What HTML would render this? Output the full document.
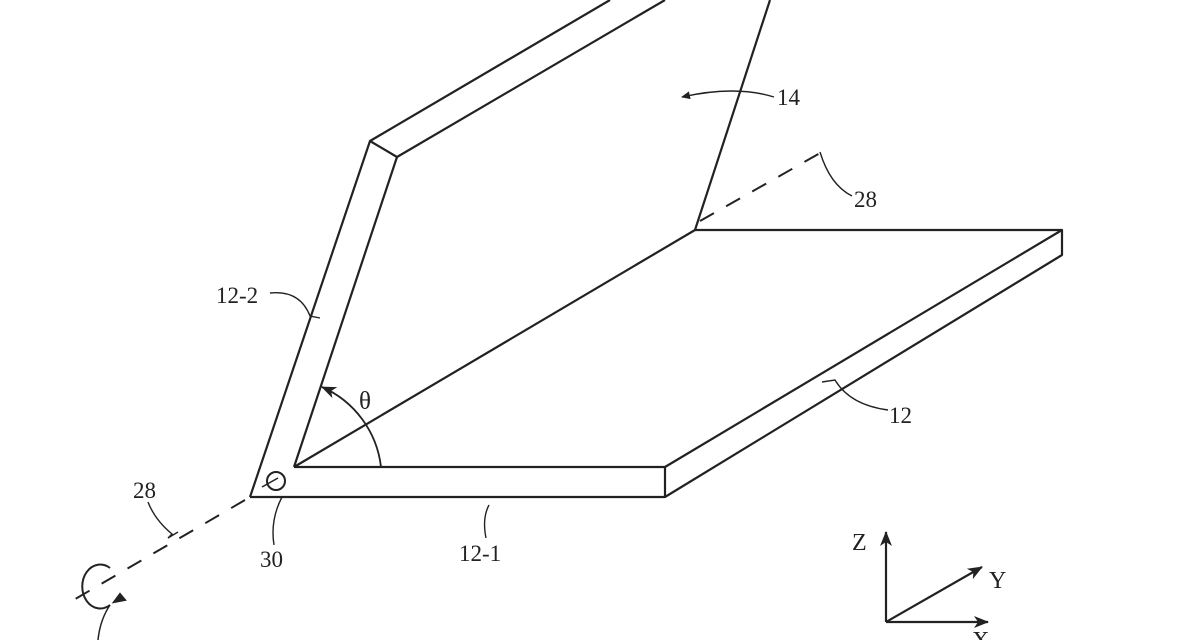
<!DOCTYPE html>
<html><head><style>
html,body{margin:0;padding:0;background:#fff;width:1200px;height:640px;overflow:hidden}
svg text{font-family:"Liberation Serif",serif;fill:#222}
</style></head><body>
<svg width="1200" height="640" viewBox="0 0 1200 640" xmlns="http://www.w3.org/2000/svg">
<defs>
<marker id="ah" markerWidth="10" markerHeight="10" refX="8" refY="5" orient="auto" markerUnits="userSpaceOnUse">
<path d="M0,1 L9,5 L0,9 Z" fill="#222"/></marker>
<marker id="ahb" markerWidth="16" markerHeight="14" refX="14" refY="7" orient="auto" markerUnits="userSpaceOnUse">
<path d="M0,1 L15,7 L0,13 L4,7 Z" fill="#222"/></marker>
</defs>
<g stroke="#222" stroke-width="2.2" fill="none" stroke-linejoin="round">
<path d="M250,497 L665,497 L665,467 L294,467"/>
<path d="M665,497 L1062,255 L1062,230 L695,230"/>
<path d="M665,467 L1062,230"/>
<path d="M294,467 L695,230"/>
<path d="M250,497 L370,141 L397,157 L294,467"/>
<path d="M370,141 L610,0"/>
<path d="M397,157 L665,0"/>
<path d="M695,230 L770,0"/>
<path d="M381,467 A100,100 0 0 0 322,387" stroke-width="1.8" marker-end="url(#ahb)"/>
<circle cx="276" cy="481" r="9" stroke-width="2"/>
<path d="M262,487 L278,478" stroke-width="1.5"/>
</g>
<g stroke="#222" stroke-width="2" fill="none" stroke-dasharray="16,14">
<path d="M245,500 L65,605"/>
<path d="M700,221 L822,152"/>
</g>
<g stroke="#222" stroke-width="2" fill="none">
<path d="M110,568 A18,22 0 1 0 110,605"/>
<path d="M120,594 L125,600 L114,602 Z" fill="#222"/>
<path d="M110,605 Q100,620 98,640" stroke-width="1.5"/>
</g>
<g stroke="#222" stroke-width="1.4" fill="none">
<path d="M774,97 Q735,85 682,97" marker-end="url(#ah)"/>
<path d="M852,196 Q830,185 820,152"/>
<path d="M270,293 Q300,290 310,316 L320,318"/>
<path d="M888,410 Q850,405 835,380 L822,382"/>
<path d="M148,502 Q155,520 172,534 L168,538 L178,532"/>
<path d="M274,545 Q270,520 282,497"/>
<path d="M486,538 Q482,518 489,505"/>
</g>
<g stroke="#222" stroke-width="2.2" fill="none">
<path d="M886,622 L886,532" marker-end="url(#ahb)"/>
<path d="M886,622 L982,567" marker-end="url(#ahb)"/>
<path d="M886,622 L988,622" marker-end="url(#ahb)"/>
</g>
<g font-size="23">
<text x="777" y="105">14</text>
<text x="854" y="207">28</text>
<text x="216" y="303">12-2</text>
<text x="359" y="409" font-size="25">θ</text>
<text x="889" y="423">12</text>
<text x="133" y="498">28</text>
<text x="260" y="567">30</text>
<text x="459" y="561">12-1</text>
<text x="852" y="550" font-size="24">Z</text>
<text x="989" y="588" font-size="24">Y</text>
<text x="972" y="648" font-size="24">X</text>
</g>
</svg>
</body></html>
